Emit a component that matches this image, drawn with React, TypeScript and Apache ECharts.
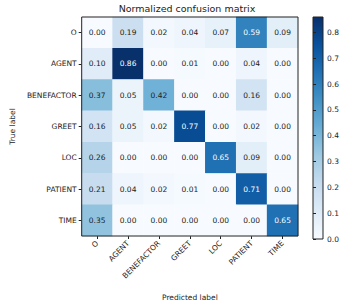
import React, { useEffect, useRef } from "react";
import * as echarts from "echarts";

const labels = ["O", "AGENT", "BENEFACTOR", "GREET", "LOC", "PATIENT", "TIME"];
const rowO = [0.0, 0.19, 0.02, 0.04, 0.07, 0.59, 0.09];
const rowAgent = [0.1, 0.86, 0.0, 0.01, 0.0, 0.04, 0.0];
const rowBenefactor = [0.37, 0.05, 0.42, 0.0, 0.0, 0.16, 0.0];
const rowGreet = [0.16, 0.05, 0.02, 0.77, 0.0, 0.02, 0.0];
const rowLoc = [0.26, 0.0, 0.0, 0.0, 0.65, 0.09, 0.0];
const rowPatient = [0.21, 0.04, 0.02, 0.01, 0.0, 0.71, 0.0];
const rowTime = [0.35, 0.0, 0.0, 0.0, 0.0, 0.0, 0.65];
const rows = [rowO, rowAgent, rowBenefactor, rowGreet, rowLoc, rowPatient, rowTime];
const colorbarTicks = [0, 0.1, 0.2, 0.3, 0.4, 0.5, 0.6, 0.7, 0.8];
const vMax = 0.86;

const blues = ["#f7fbff", "#deebf7", "#c6dbef", "#9ecae1", "#6baed6", "#4292c6", "#2171b5", "#08519c", "#08306b"];

export default function App() {
  const ref = useRef<HTMLDivElement>(null);
  useEffect(() => {
    if (!ref.current) return;
    const chart = echarts.init(ref.current, undefined, { renderer: "svg" });
    const thresh = vMax / 2;
    const data: any[] = [];
    rows.forEach((row, yi) => {
      row.forEach((v, xi) => {
        data.push({
          value: [xi, yi, v],
          label: { color: v > thresh ? "#ffffff" : "#222222" },
        });
      });
    });
    const font = "DejaVu Sans";
    const gradStops = blues
      .slice()
      .reverse()
      .map((c, i) => ({ offset: i / (blues.length - 1), color: c }));
    chart.setOption({
      animation: false,
      backgroundColor: "#ffffff",
      textStyle: { fontFamily: font },
      title: {
        text: "Normalized confusion matrix",
        left: 187,
        textAlign: "center",
        top: 3,
        padding: 0,
        textStyle: { fontSize: 9.5, fontWeight: "normal", color: "#222", fontFamily: font },
      },
      grid: [
        { left: 77, top: 17, width: 221, height: 222, show: true, z: 5, backgroundColor: "transparent", borderColor: "#222", borderWidth: 1 },
        {
          left: 313,
          top: 17,
          width: 10,
          height: 222,
          show: true,
          backgroundColor: new echarts.graphic.LinearGradient(0, 0, 0, 1, gradStops),
          borderColor: "#222",
          borderWidth: 1,
        },
      ],
      visualMap: {
        show: false,
        seriesIndex: 0,
        min: 0,
        max: vMax,
        inRange: { color: blues },
      },
      xAxis: [
        {
          type: "category",
          gridIndex: 0,
          data: labels,
          name: "Predicted label",
          nameLocation: "middle",
          nameGap: 57,
          nameTextStyle: { fontSize: 7.5, color: "#222" },
          axisLine: { show: false },
          axisTick: { show: true, alignWithLabel: true, length: 3, lineStyle: { color: "#222" } },
          axisLabel: { rotate: 45, fontSize: 7.5, color: "#222", margin: 6, interval: 0 },
          splitLine: { show: false },
        },
        { type: "value", gridIndex: 1, show: false, min: 0, max: 1 },
      ],
      yAxis: [
        {
          type: "category",
          gridIndex: 0,
          data: labels,
          inverse: true,
          name: "True label",
          nameLocation: "middle",
          nameGap: 63,
          nameRotate: 90,
          nameTextStyle: { fontSize: 7.5, color: "#222" },
          axisLine: { show: false },
          axisTick: { show: true, alignWithLabel: true, length: 3, lineStyle: { color: "#222" } },
          axisLabel: { fontSize: 7.5, color: "#222", margin: 5, interval: 0 },
          splitLine: { show: false },
        },
        {
          type: "value",
          gridIndex: 1,
          min: 0,
          max: vMax,
          position: "right",
          axisLine: { show: false },
          axisTick: { show: true, length: 3, lineStyle: { color: "#222" }, customValues: colorbarTicks },
          axisLabel: {
            fontSize: 7.5,
            color: "#222",
            margin: 4,
            customValues: colorbarTicks,
            formatter: (v: number) => v.toFixed(1),
          },
          splitLine: { show: false },
        },
      ],
      series: [
        {
          type: "heatmap",
          xAxisIndex: 0,
          yAxisIndex: 0,
          data,
          label: {
            show: true,
            fontSize: 7.5,
            fontFamily: font,
            formatter: (p: any) => Number(p.value[2]).toFixed(2),
          },
          itemStyle: { borderWidth: 0 },
          emphasis: { disabled: true },
        },
      ],
    });
    return () => chart.dispose();
  }, []);
  return (
    <div
      ref={ref}
      style={{ position: "fixed", left: 0, top: 0, width: 347, height: 306, background: "#fff" }}
    />
  );
}
